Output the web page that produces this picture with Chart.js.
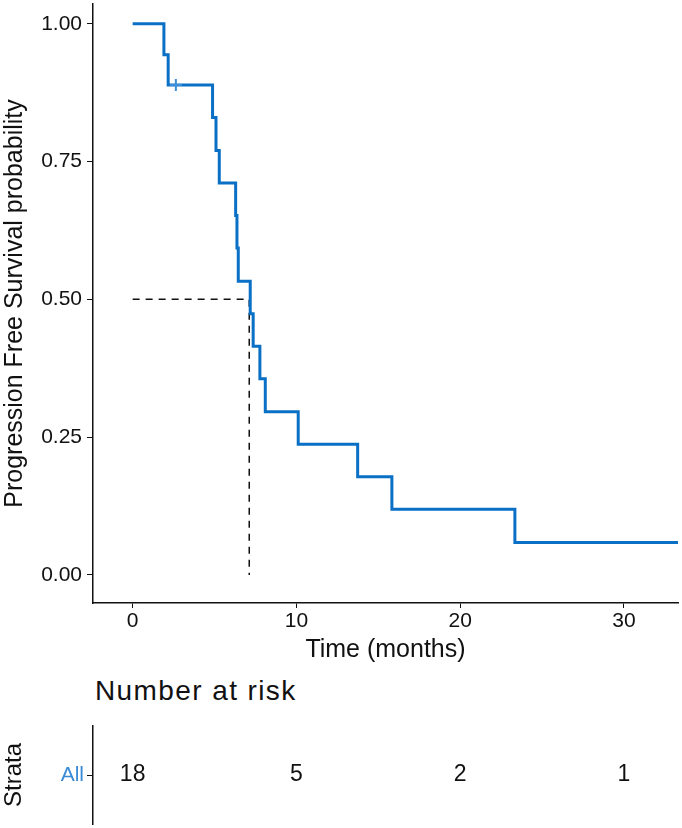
<!doctype html>
<html lang="en">
 <head>
  <meta charset="UTF-8">
  <title>Progression Free Survival</title>
  <script src="https://cdn.jsdelivr.net/npm/chart.js"></script>
  <style>
        body {
            margin: 0;
            padding: 0;
            background: #fff;
            font-family: 'Liberation Sans', Arial, sans-serif;
        }

        .wrap {
            position: relative;
            width: 682px;
            height: 828px;
        }

        #km {
            position: absolute;
            left: 0;
            top: 0;
        }

        #risk {
            position: absolute;
            left: 0;
            top: 715px;
        }

        .risk-title {
            position: absolute;
            left: 95px;
            top: 675px;
            font-size: 28px;
            letter-spacing: 1.4px;
            color: #111;
        }
    </style>
 </head>
 <body>
  <div class="wrap">
   <canvas id="km" width="682" height="668"></canvas>
   <div class="risk-title">Number at risk</div>
   <canvas id="risk" width="682" height="113"></canvas>
  </div>
  <script>
        // survival curve (time in months, probability)
        const times = [0, 1.91, 2.17, 4.88, 5.09, 5.29, 6.29, 6.37, 6.45, 7.18, 7.36, 7.77, 8.1, 10.11, 13.74, 15.83, 23.34, 33.3];
        const survival = [1, 0.944, 0.889, 0.83, 0.77, 0.711, 0.652, 0.593, 0.533, 0.474, 0.415, 0.356, 0.296, 0.237, 0.178, 0.119, 0.059, 0.059];

        const censorTimes = [2.64];
        const censorSurv = [0.889];

        const medianTime = 7.12;
        const medianSurv = 0.5;

        const xTicks = [0, 10, 20, 30];
        const yTicks = [0, 0.25, 0.5, 0.75, 1];

        const riskTimes = [0, 10, 20, 30];
        const riskCounts = [18, 5, 2, 1];
        const strata = ['All'];

        const xMin = -2.42, xMax = 33.3;
        const blue = '#0a70c6';
        const font = "'Liberation Sans', Arial, sans-serif";

        // keep the plot edges where they are: no extra room for edge labels
        const noEdgePad = s => { s.paddingTop = 0; s.paddingBottom = 0; s.paddingLeft = 0; s.paddingRight = 0; };

        // censored times sit on the curve itself and get a cross
        const curve = times.map((t, i) => ({ x: t, y: survival[i], censored: false }))
            .concat(censorTimes.map((t, i) => ({ x: t, y: censorSurv[i], censored: true })))
            .sort((a, b) => a.x - b.x);

        new Chart(document.getElementById('km'), {
            type: 'line',
            data: {
                datasets: [
                    {
                        data: curve,
                        stepped: true,
                        borderColor: blue,
                        borderWidth: 3,
                        pointStyle: 'cross',
                        pointRadius: c => (c.raw && c.raw.censored ? 6 : 0),
                        pointBorderColor: '#3b8fd8',
                        pointBorderWidth: 2,
                        fill: false
                    },
                    {
                        data: [{ x: 0, y: medianSurv }, { x: medianTime, y: medianSurv }, { x: medianTime, y: 0 }],
                        borderColor: '#111',
                        borderWidth: 1.5,
                        borderDash: [7, 6],
                        pointRadius: 0,
                        fill: false
                    }
                ]
            },
            options: {
                responsive: false,
                animation: false,
                layout: { padding: { top: 4, right: 4, bottom: 3, left: 0 } },
                plugins: { legend: { display: false }, tooltip: { enabled: false } },
                scales: {
                    x: {
                        type: 'linear',
                        min: xMin,
                        max: xMax,
                        afterBuildTicks: s => { s.ticks = xTicks.map(v => ({ value: v })); },
                        afterFit: s => { s.height = 62; noEdgePad(s); },
                        ticks: { color: '#111', font: { family: font, size: 21 }, padding: 1 },
                        grid: { drawOnChartArea: false, tickLength: 5, color: '#111' },
                        border: { color: '#111', width: 1.5 },
                        title: { display: true, text: 'Time (months)', color: '#111', font: { family: font, size: 25 }, padding: 0 }
                    },
                    y: {
                        min: -0.051,
                        max: 1.036,
                        afterBuildTicks: s => { s.ticks = yTicks.map(v => ({ value: v })); },
                        afterFit: s => { s.width = 93; noEdgePad(s); },
                        ticks: { color: '#111', font: { family: font, size: 21 }, padding: 5, callback: v => v.toFixed(2) },
                        grid: { drawOnChartArea: false, tickLength: 6, color: '#111' },
                        border: { color: '#111', width: 1.5 },
                        title: { display: true, text: 'Progression Free Survival probability', color: '#111', font: { family: font, size: 25 }, padding: 0 }
                    }
                }
            }
        });

        // write the number at risk at each point of the table
        const riskLabels = {
            id: 'riskLabels',
            afterDatasetsDraw(chart) {
                const ctx = chart.ctx;
                const meta = chart.getDatasetMeta(0);
                ctx.save();
                ctx.fillStyle = '#111';
                ctx.font = '23px ' + font;
                ctx.textAlign = 'center';
                ctx.textBaseline = 'middle';
                meta.data.forEach((pt, i) => {
                    ctx.fillText(String(riskCounts[i]), pt.x, pt.y);
                });
                ctx.restore();
            }
        };

        new Chart(document.getElementById('risk'), {
            type: 'scatter',
            data: {
                datasets: [{
                    data: riskTimes.map(t => ({ x: t, y: strata[0] })),
                    pointRadius: 0
                }]
            },
            options: {
                responsive: false,
                animation: false,
                layout: { padding: { top: 11, right: 4, bottom: 4, left: 0 } },
                plugins: { legend: { display: false }, tooltip: { enabled: false } },
                scales: {
                    x: { type: 'linear', min: xMin, max: xMax, display: false },
                    y: {
                        type: 'category',
                        labels: strata,
                        offset: true,
                        afterFit: s => { s.width = 93; noEdgePad(s); },
                        ticks: { color: '#3a8ad6', font: { family: font, size: 21 }, padding: 3 },
                        grid: { drawOnChartArea: false, tickLength: 6, color: '#111' },
                        border: { color: '#111', width: 1.5 },
                        title: { display: true, text: 'Strata', color: '#111', font: { family: font, size: 24 }, padding: 0 }
                    }
                }
            },
            plugins: [riskLabels]
        });
    </script>
 </body>
</html>
